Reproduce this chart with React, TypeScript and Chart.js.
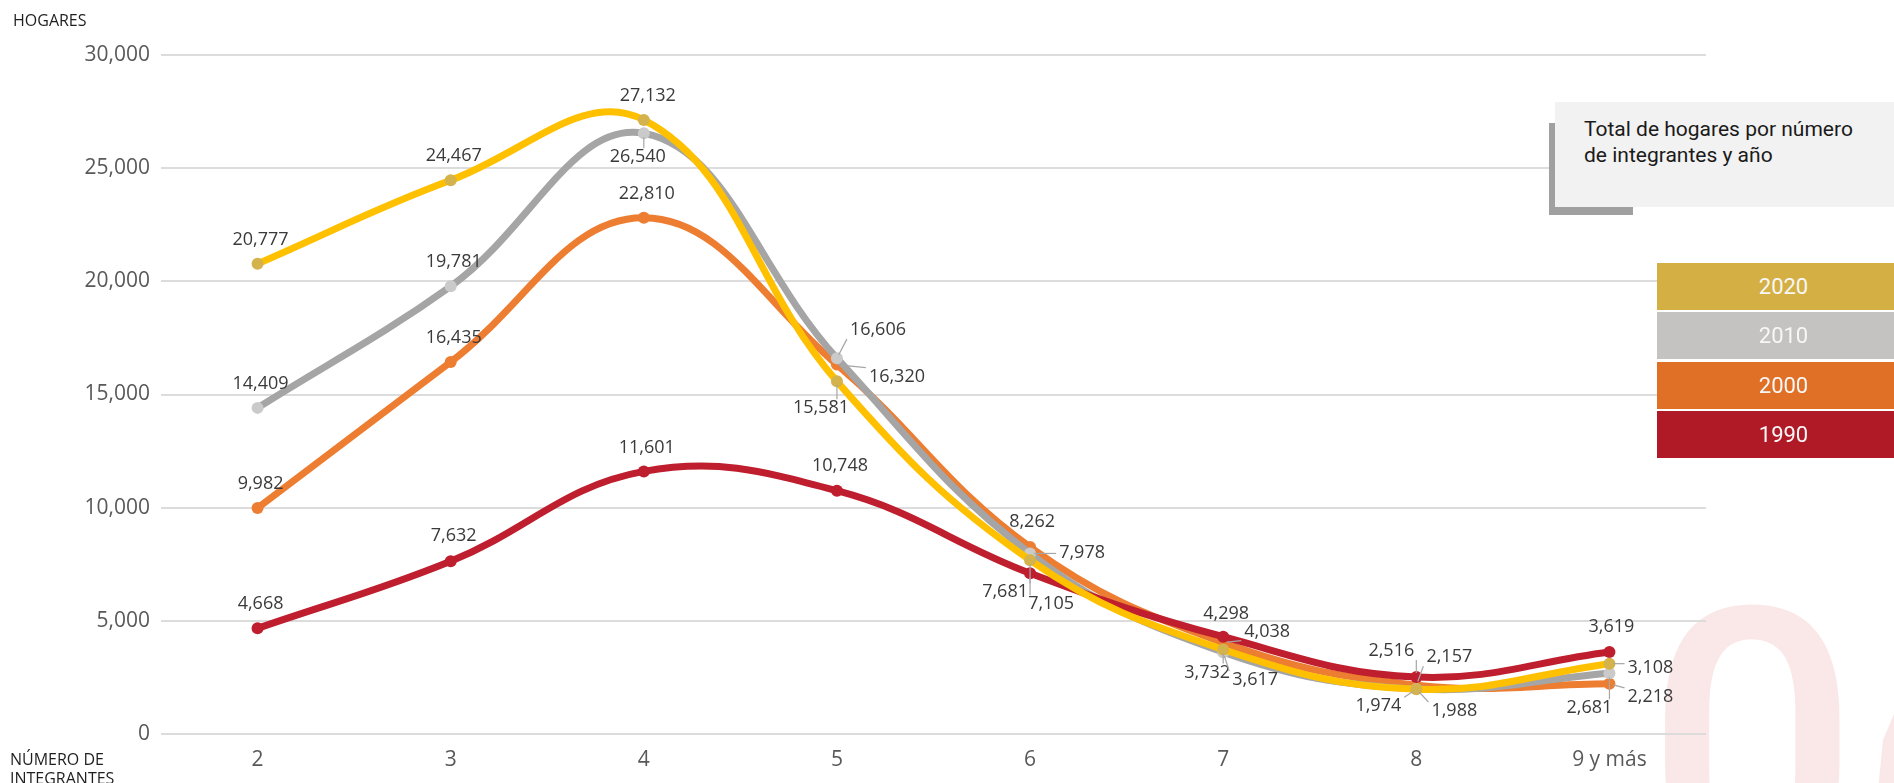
import React, { useEffect, useRef } from "react";
import { Chart, registerables } from "chart.js";

Chart.register(...registerables);

const CATEGORIES = ["2", "3", "4", "5", "6", "7", "8", "9 y más"];
const YEARS = ["2020", "2010", "2000", "1990"];
const HOGARES_2020 = [20777, 24467, 27132, 15581, 7681, 3732, 1974, 3108];
const HOGARES_2010 = [14409, 19781, 26540, 16606, 7978, 3617, 1988, 2681];
const HOGARES_2000 = [9982, 16435, 22810, 16320, 8262, 4038, 2157, 2218];
const HOGARES_1990 = [4668, 7632, 11601, 10748, 7105, 4298, 2516, 3619];
const Y_TICKS = [0, 5000, 10000, 15000, 20000, 25000, 30000];

const TITLE_LINES = ["Total de hogares por número", "de integrantes y año"];

// styling (not data)
const LINE_COLORS = ["#FFC000", "#A5A5A5", "#ED7D31", "#BF1E2E"];
const POINT_COLORS = ["#D4B24C", "#CACACA", "#ED7D31", "#BF1E2E"];
const LEGEND_COLORS = ["#D4B044", "#C4C3C1", "#E07026", "#B01A26"];
const DRAW_ORDER = [0, 2, 3, 1];

// label offsets relative to the point: [dx, dy, leader]
const LABEL_OFFSETS_2020 = [[3, -24, 0], [3, -24, 0], [4, -24, 0], [-16, 27, 1], [-25, 32, 1], [-16, 23, 1], [-38, 17, 1], [41, 4, 1]];
const LABEL_OFFSETS_2010 = [[3, -24, 0], [3, -24, 0], [-6, 24, 1], [41, -28, 1], [52, -1, 1], [32, 28, 1], [38, 22, 1], [-20, 35, 1]];
const LABEL_OFFSETS_2000 = [[3, -24, 0], [3, -24, 0], [3, -24, 0], [60, 12, 1], [2, -25, 0], [44, -11, 1], [33, -28, 1], [41, 13, 1]];
const LABEL_OFFSETS_1990 = [[3, -24, 0], [3, -25, 0], [3, -24, 0], [3, -25, 0], [21, 31, 1], [3, -23, 0], [-25, -26, 1], [2, -25, 0]];

const SERIES = [HOGARES_2020, HOGARES_2010, HOGARES_2000, HOGARES_1990];
const OFFSETS = [LABEL_OFFSETS_2020, LABEL_OFFSETS_2010, LABEL_OFFSETS_2000, LABEL_OFFSETS_1990];

const fmt = (v: number) => v.toLocaleString("en-US");

const decorPlugin = {
  id: "decor",
  beforeDraw(chart: any) {
    const ctx = chart.ctx;
    ctx.save();
    ctx.fillStyle = "#FAE8E8";
    ctx.font = '500 374px Roboto';
    ctx.textBaseline = "alphabetic";
    ctx.textAlign = "left";
    ctx.fillText("0", 1646, 874);
    ctx.beginPath();
    ctx.moveTo(1883, 740);
    ctx.lineTo(1900, 700);
    ctx.lineTo(1900, 790);
    ctx.lineTo(1878, 790);
    ctx.closePath();
    ctx.fill();
    ctx.restore();
  },
  afterDatasetsDraw(chart: any) {
    const ctx = chart.ctx;
    ctx.save();
    ctx.font = '18px "Open Sans"';
    ctx.textAlign = "center";
    ctx.textBaseline = "middle";
    SERIES.forEach((vals, i) => {
      const meta = chart.getDatasetMeta(i);
      vals.forEach((v, j) => {
        const el = meta.data[j];
        const [dx, dy, leader] = OFFSETS[i][j];
        const lx = el.x + dx;
        const ly = el.y + dy;
        const text = fmt(v);
        const w = ctx.measureText(text).width;
        if (leader) {
          const x0 = lx - w / 2 - 3, x1 = lx + w / 2 + 3;
          const y0 = ly - 9, y1 = ly + 9;
          const nx = Math.min(Math.max(el.x, x0), x1);
          const ny = Math.min(Math.max(el.y, y0), y1);
          const ddx = nx - el.x, ddy = ny - el.y;
          const d = Math.hypot(ddx, ddy);
          if (d > 7) {
            ctx.strokeStyle = "#A6A6A6";
            ctx.lineWidth = 1.2;
            ctx.beginPath();
            ctx.moveTo(el.x + (ddx / d) * 4, el.y + (ddy / d) * 4);
            ctx.lineTo(nx, ny);
            ctx.stroke();
          }
        }
        ctx.fillStyle = "#3A3A3A";
        ctx.fillText(text, lx, ly);
      });
    });
    ctx.restore();
  },
  afterDraw(chart: any) {
    const ctx = chart.ctx;
    ctx.save();
    ctx.fillStyle = "#1F1F1F";
    ctx.font = '16px "Open Sans"';
    ctx.textAlign = "left";
    ctx.textBaseline = "alphabetic";
    ctx.fillText("HOGARES", 13, 26);
    ctx.fillText("NÚMERO DE", 10, 765);
    ctx.fillText("INTEGRANTES", 10, 784);
    ctx.restore();
  },
};

export default function App() {
  const ref = useRef<HTMLCanvasElement | null>(null);

  useEffect(() => {
    if (!ref.current) return;
    const chart = new Chart(ref.current, {
      type: "line",
      data: {
        labels: CATEGORIES,
        datasets: SERIES.map((vals, i) => ({
          label: YEARS[i],
          data: vals,
          borderColor: LINE_COLORS[i],
          backgroundColor: POINT_COLORS[i],
          pointBackgroundColor: POINT_COLORS[i],
          pointBorderWidth: 0,
          pointRadius: 6,
          borderWidth: 7,
          tension: 0.4,
          fill: false,
          order: DRAW_ORDER[i],
        })),
      },
      options: {
        responsive: false,
        animation: false,
        locale: "en-US",
        layout: { padding: { top: 55, right: 188, left: 0, bottom: 0 } },
        plugins: {
          legend: { display: false },
          tooltip: { enabled: false },
        },
        scales: {
          x: {
            offset: true,
            grid: { display: false },
            border: { display: false },
            ticks: {
              color: "#595959",
              font: { family: "Open Sans", size: 21 },
              padding: 5,
              maxRotation: 0,
            },
            afterFit: (s: any) => {
              s.height = 49;
            },
          },
          y: {
            min: 0,
            max: 30000,
            afterBuildTicks: (s: any) => {
              s.ticks = Y_TICKS.map((v) => ({ value: v }));
            },
            grid: { color: "#DCDCDC", lineWidth: 2, drawTicks: false },
            border: { display: false },
            ticks: {
              color: "#595959",
              font: { family: "Open Sans", size: 21 },
              padding: 11,
              callback: (v: any) => fmt(Number(v)),
            },
            afterFit: (s: any) => {
              s.width = 161;
            },
          },
        },
      },
      plugins: [decorPlugin],
    });
    return () => chart.destroy();
  }, []);

  return (
    <div style={{ position: "fixed", left: 0, top: 0, width: 1894, height: 783, overflow: "hidden", background: "#fff" }}>
      <canvas ref={ref} width={1894} height={783} style={{ position: "absolute", left: 0, top: 0, width: 1894, height: 783 }} />
      <div style={{ position: "absolute", left: 1549, top: 123, width: 84, height: 92, background: "#A0A0A0" }} />
      <div style={{ position: "absolute", left: 1555, top: 102, width: 339, height: 105, background: "#F2F2F2" }}>
        <div style={{ position: "absolute", left: 29, top: 14, fontFamily: "Roboto", fontSize: 21, lineHeight: "26px", color: "#1A1A1A", whiteSpace: "nowrap" }}>
          {TITLE_LINES.map((t) => (
            <div key={t}>{t}</div>
          ))}
        </div>
      </div>
      {YEARS.map((y, i) => (
        <div
          key={y}
          style={{
            position: "absolute",
            left: 1657,
            top: 263 + i * 49.3,
            width: 237,
            height: 47,
            background: LEGEND_COLORS[i],
            color: "#F7F7F7",
            fontFamily: "Roboto",
            fontSize: 22,
            lineHeight: "47px",
            textAlign: "center",
            paddingLeft: 16,
            boxSizing: "border-box",
          }}
        >
          {y}
        </div>
      ))}
    </div>
  );
}
